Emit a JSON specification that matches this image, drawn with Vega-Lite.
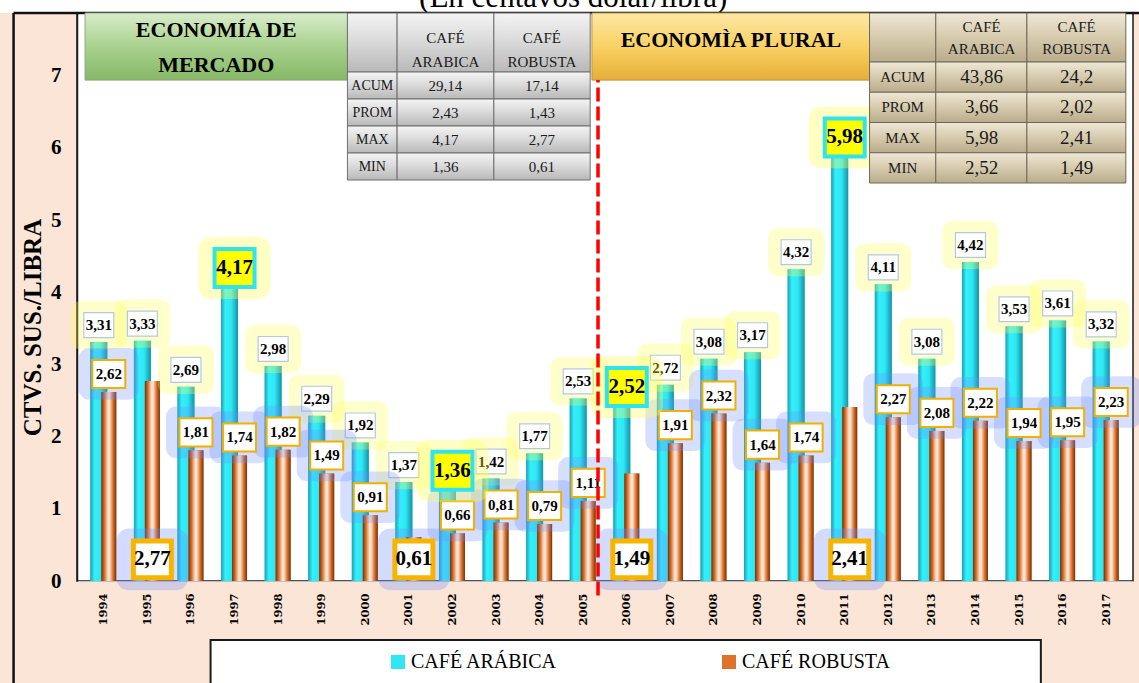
{
  "$schema": "https://vega.github.io/schema/vega-lite/v6.json",
  "autosize": {"type": "none"},
  "width": 1056,
  "height": 568,
  "padding": {"left": 77, "top": 13, "right": 6, "bottom": 102},
  "background": "#FBE5D6",
  "config": {
    "locale": {"number": {"decimal": ",", "thousands": ".", "grouping": [3], "currency": ["", " €"]}},
    "view": {"fill": "white", "stroke": "#1a1a1a", "strokeWidth": 1.5},
    "font": "Liberation Serif, Times New Roman, serif",
    "legend": {"labelFont": "Liberation Serif, Times New Roman, serif"}
  },
  "datasets": {
    "precios": [
      {"anio": 1994, "periodo": "Economía de mercado", "cafe": "CAFÉ ARÁBICA", "valor": 3.31},
      {"anio": 1995, "periodo": "Economía de mercado", "cafe": "CAFÉ ARÁBICA", "valor": 3.33},
      {"anio": 1996, "periodo": "Economía de mercado", "cafe": "CAFÉ ARÁBICA", "valor": 2.69},
      {"anio": 1997, "periodo": "Economía de mercado", "cafe": "CAFÉ ARÁBICA", "valor": 4.17},
      {"anio": 1998, "periodo": "Economía de mercado", "cafe": "CAFÉ ARÁBICA", "valor": 2.98},
      {"anio": 1999, "periodo": "Economía de mercado", "cafe": "CAFÉ ARÁBICA", "valor": 2.29},
      {"anio": 2000, "periodo": "Economía de mercado", "cafe": "CAFÉ ARÁBICA", "valor": 1.92},
      {"anio": 2001, "periodo": "Economía de mercado", "cafe": "CAFÉ ARÁBICA", "valor": 1.37},
      {"anio": 2002, "periodo": "Economía de mercado", "cafe": "CAFÉ ARÁBICA", "valor": 1.36},
      {"anio": 2003, "periodo": "Economía de mercado", "cafe": "CAFÉ ARÁBICA", "valor": 1.42},
      {"anio": 2004, "periodo": "Economía de mercado", "cafe": "CAFÉ ARÁBICA", "valor": 1.77},
      {"anio": 2005, "periodo": "Economía de mercado", "cafe": "CAFÉ ARÁBICA", "valor": 2.53},
      {"anio": 2006, "periodo": "Economía plural", "cafe": "CAFÉ ARÁBICA", "valor": 2.52},
      {"anio": 2007, "periodo": "Economía plural", "cafe": "CAFÉ ARÁBICA", "valor": 2.72},
      {"anio": 2008, "periodo": "Economía plural", "cafe": "CAFÉ ARÁBICA", "valor": 3.08},
      {"anio": 2009, "periodo": "Economía plural", "cafe": "CAFÉ ARÁBICA", "valor": 3.17},
      {"anio": 2010, "periodo": "Economía plural", "cafe": "CAFÉ ARÁBICA", "valor": 4.32},
      {"anio": 2011, "periodo": "Economía plural", "cafe": "CAFÉ ARÁBICA", "valor": 5.98},
      {"anio": 2012, "periodo": "Economía plural", "cafe": "CAFÉ ARÁBICA", "valor": 4.11},
      {"anio": 2013, "periodo": "Economía plural", "cafe": "CAFÉ ARÁBICA", "valor": 3.08},
      {"anio": 2014, "periodo": "Economía plural", "cafe": "CAFÉ ARÁBICA", "valor": 4.42},
      {"anio": 2015, "periodo": "Economía plural", "cafe": "CAFÉ ARÁBICA", "valor": 3.53},
      {"anio": 2016, "periodo": "Economía plural", "cafe": "CAFÉ ARÁBICA", "valor": 3.61},
      {"anio": 2017, "periodo": "Economía plural", "cafe": "CAFÉ ARÁBICA", "valor": 3.32},
      {"anio": 1994, "periodo": "Economía de mercado", "cafe": "CAFÉ ROBUSTA", "valor": 2.62},
      {"anio": 1995, "periodo": "Economía de mercado", "cafe": "CAFÉ ROBUSTA", "valor": 2.77},
      {"anio": 1996, "periodo": "Economía de mercado", "cafe": "CAFÉ ROBUSTA", "valor": 1.81},
      {"anio": 1997, "periodo": "Economía de mercado", "cafe": "CAFÉ ROBUSTA", "valor": 1.74},
      {"anio": 1998, "periodo": "Economía de mercado", "cafe": "CAFÉ ROBUSTA", "valor": 1.82},
      {"anio": 1999, "periodo": "Economía de mercado", "cafe": "CAFÉ ROBUSTA", "valor": 1.49},
      {"anio": 2000, "periodo": "Economía de mercado", "cafe": "CAFÉ ROBUSTA", "valor": 0.91},
      {"anio": 2001, "periodo": "Economía de mercado", "cafe": "CAFÉ ROBUSTA", "valor": 0.61},
      {"anio": 2002, "periodo": "Economía de mercado", "cafe": "CAFÉ ROBUSTA", "valor": 0.66},
      {"anio": 2003, "periodo": "Economía de mercado", "cafe": "CAFÉ ROBUSTA", "valor": 0.81},
      {"anio": 2004, "periodo": "Economía de mercado", "cafe": "CAFÉ ROBUSTA", "valor": 0.79},
      {"anio": 2005, "periodo": "Economía de mercado", "cafe": "CAFÉ ROBUSTA", "valor": 1.11},
      {"anio": 2006, "periodo": "Economía plural", "cafe": "CAFÉ ROBUSTA", "valor": 1.49},
      {"anio": 2007, "periodo": "Economía plural", "cafe": "CAFÉ ROBUSTA", "valor": 1.91},
      {"anio": 2008, "periodo": "Economía plural", "cafe": "CAFÉ ROBUSTA", "valor": 2.32},
      {"anio": 2009, "periodo": "Economía plural", "cafe": "CAFÉ ROBUSTA", "valor": 1.64},
      {"anio": 2010, "periodo": "Economía plural", "cafe": "CAFÉ ROBUSTA", "valor": 1.74},
      {"anio": 2011, "periodo": "Economía plural", "cafe": "CAFÉ ROBUSTA", "valor": 2.41},
      {"anio": 2012, "periodo": "Economía plural", "cafe": "CAFÉ ROBUSTA", "valor": 2.27},
      {"anio": 2013, "periodo": "Economía plural", "cafe": "CAFÉ ROBUSTA", "valor": 2.08},
      {"anio": 2014, "periodo": "Economía plural", "cafe": "CAFÉ ROBUSTA", "valor": 2.22},
      {"anio": 2015, "periodo": "Economía plural", "cafe": "CAFÉ ROBUSTA", "valor": 1.94},
      {"anio": 2016, "periodo": "Economía plural", "cafe": "CAFÉ ROBUSTA", "valor": 1.95},
      {"anio": 2017, "periodo": "Economía plural", "cafe": "CAFÉ ROBUSTA", "valor": 2.23}
    ],
    "resumen": [
      {"periodo": "Economía de mercado", "estadistico": "ACUM", "arabica": 29.14, "robusta": 17.14},
      {"periodo": "Economía de mercado", "estadistico": "PROM", "arabica": 2.43, "robusta": 1.43},
      {"periodo": "Economía de mercado", "estadistico": "MAX", "arabica": 4.17, "robusta": 2.77},
      {"periodo": "Economía de mercado", "estadistico": "MIN", "arabica": 1.36, "robusta": 0.61},
      {"periodo": "Economía plural", "estadistico": "ACUM", "arabica": 43.86, "robusta": 24.2},
      {"periodo": "Economía plural", "estadistico": "PROM", "arabica": 3.66, "robusta": 2.02},
      {"periodo": "Economía plural", "estadistico": "MAX", "arabica": 5.98, "robusta": 2.41},
      {"periodo": "Economía plural", "estadistico": "MIN", "arabica": 2.52, "robusta": 1.49}
    ],
    "periodos": [
      {"periodo": "Economía de mercado", "titulo": ["ECONOMÍA DE", "MERCADO"]},
      {"periodo": "Economía plural", "titulo": "ECONOMÌA PLURAL"}
    ]
  },
  "layer": [
    {
      "data": {"name": "precios"},
      "layer": [
        {
          "transform": [{"aggregate": [{"op": "count", "as": "n"}]}],
          "layer": [
            {"mark": {"type": "rect", "fill": "white", "strokeWidth": 0},
             "encoding": {"x": {"datum": 1991.6}, "x2": {"datum": 2017.8}, "y": {"datum": 8.05}, "y2": {"datum": 7.87}}},
            {"mark": {"type": "text", "text": "(En centavos dólar/libra)", "font": "Liberation Serif, Times New Roman, serif", "fontSize": 31, "baseline": "alphabetic", "align": "center", "fill": "black"},
             "encoding": {"x": {"datum": 2004.77}, "y": {"datum": 7.953}}},
            {"mark": {"type": "rule", "stroke": "#111111", "strokeWidth": 2.5},
             "encoding": {"x": {"datum": 1991.93}, "x2": {"datum": 2017.8}, "y": {"datum": 7.87}}},
            {"mark": {"type": "rule", "stroke": "#111111", "strokeWidth": 2.5},
             "encoding": {"x": {"datum": 1991.93}, "y": {"datum": 7.87}, "y2": {"datum": -1.6}}}
          ]
        },
        {
          "data": {"name": "periodos"},
          "transform": [{"filter": "datum.periodo === 'Economía de mercado'"}],
          "layer": [
            {"mark": {"type": "rect", "fill": {"gradient": "linear", "x1": 0, "y1": 0, "x2": 0, "y2": 1, "stops": [{"offset": 0, "color": "#d8ecca"}, {"offset": 0.5, "color": "#a9d18e"}, {"offset": 1, "color": "#86b866"}]}, "stroke": "#8fa884", "strokeWidth": 1},
             "encoding": {"x": {"datum": 1993.57}, "x2": {"datum": 1999.59}, "y": {"datum": 7.87}, "y2": {"datum": 6.94}}},
            {"mark": {"type": "text", "font": "Liberation Serif, Times New Roman, serif", "fontSize": 22, "fontWeight": "bold", "lineHeight": 35, "baseline": "middle", "align": "center", "fill": "black"},
             "encoding": {"x": {"datum": 1996.58}, "y": {"datum": 7.63}, "text": {"field": "titulo"}}}
          ]
        },
        {
          "data": {"name": "periodos"},
          "transform": [{"filter": "datum.periodo === 'Economía plural'"}],
          "layer": [
            {"mark": {"type": "rect", "fill": {"gradient": "linear", "x1": 0, "y1": 0, "x2": 0, "y2": 1, "stops": [{"offset": 0, "color": "#fde8a6"}, {"offset": 0.5, "color": "#fad164"}, {"offset": 1, "color": "#e6ae37"}]}, "stroke": "#b8953f", "strokeWidth": 1},
             "encoding": {"x": {"datum": 2005.2}, "x2": {"datum": 2011.57}, "y": {"datum": 7.87}, "y2": {"datum": 6.94}}},
            {"mark": {"type": "text", "font": "Liberation Serif, Times New Roman, serif", "fontSize": 22, "fontWeight": "bold", "baseline": "middle", "align": "center", "fill": "black"},
             "encoding": {"x": {"datum": 2008.39}, "y": {"datum": 7.5}, "text": {"field": "titulo"}}}
          ]
        },
        {
          "transform": [{"aggregate": [{"op": "count", "as": "n"}]}],
          "layer": [
            {"mark": {"type": "rect", "fill": {"gradient": "linear", "x1": 0, "y1": 0, "x2": 0, "y2": 1, "stops": [{"offset": 0, "color": "#f4f4f4"}, {"offset": 0.45, "color": "#dcdcdc"}, {"offset": 1, "color": "#b8b8b8"}]}, "stroke": "#6f6f6f", "strokeWidth": 1},
             "encoding": {"x": {"datum": 1999.59}, "x2": {"datum": 2000.73}, "y": {"datum": 7.87}, "y2": {"datum": 7.052}}},
            {"mark": {"type": "rect", "fill": {"gradient": "linear", "x1": 0, "y1": 0, "x2": 0, "y2": 1, "stops": [{"offset": 0, "color": "#f4f4f4"}, {"offset": 0.45, "color": "#dcdcdc"}, {"offset": 1, "color": "#b8b8b8"}]}, "stroke": "#6f6f6f", "strokeWidth": 1},
             "encoding": {"x": {"datum": 2000.73}, "x2": {"datum": 2002.95}, "y": {"datum": 7.87}, "y2": {"datum": 7.052}}},
            {"mark": {"type": "rect", "fill": {"gradient": "linear", "x1": 0, "y1": 0, "x2": 0, "y2": 1, "stops": [{"offset": 0, "color": "#f4f4f4"}, {"offset": 0.45, "color": "#dcdcdc"}, {"offset": 1, "color": "#b8b8b8"}]}, "stroke": "#6f6f6f", "strokeWidth": 1},
             "encoding": {"x": {"datum": 2002.95}, "x2": {"datum": 2005.16}, "y": {"datum": 7.87}, "y2": {"datum": 7.052}}},
            {"mark": {"type": "text", "text": ["CAFÉ", "ARABICA"], "font": "Liberation Serif, Times New Roman, serif", "fontSize": 15, "lineHeight": 24, "baseline": "middle", "align": "center", "fill": "#1a1a1a"},
             "encoding": {"x": {"datum": 2001.84}, "y": {"datum": 7.53}}},
            {"mark": {"type": "text", "text": ["CAFÉ", "ROBUSTA"], "font": "Liberation Serif, Times New Roman, serif", "fontSize": 15, "lineHeight": 24, "baseline": "middle", "align": "center", "fill": "#1a1a1a"},
             "encoding": {"x": {"datum": 2004.05}, "y": {"datum": 7.53}}},
            {"mark": {"type": "rect", "fill": {"gradient": "linear", "x1": 0, "y1": 0, "x2": 0, "y2": 1, "stops": [{"offset": 0, "color": "#efe8d6"}, {"offset": 0.45, "color": "#d9cdb1"}, {"offset": 1, "color": "#b9ac8c"}]}, "stroke": "#6f6855", "strokeWidth": 1},
             "encoding": {"x": {"datum": 2011.57}, "x2": {"datum": 2013.09}, "y": {"datum": 7.87}, "y2": {"datum": 7.19}}},
            {"mark": {"type": "rect", "fill": {"gradient": "linear", "x1": 0, "y1": 0, "x2": 0, "y2": 1, "stops": [{"offset": 0, "color": "#efe8d6"}, {"offset": 0.45, "color": "#d9cdb1"}, {"offset": 1, "color": "#b9ac8c"}]}, "stroke": "#6f6855", "strokeWidth": 1},
             "encoding": {"x": {"datum": 2013.09}, "x2": {"datum": 2015.18}, "y": {"datum": 7.87}, "y2": {"datum": 7.19}}},
            {"mark": {"type": "rect", "fill": {"gradient": "linear", "x1": 0, "y1": 0, "x2": 0, "y2": 1, "stops": [{"offset": 0, "color": "#efe8d6"}, {"offset": 0.45, "color": "#d9cdb1"}, {"offset": 1, "color": "#b9ac8c"}]}, "stroke": "#6f6855", "strokeWidth": 1},
             "encoding": {"x": {"datum": 2015.18}, "x2": {"datum": 2017.45}, "y": {"datum": 7.87}, "y2": {"datum": 7.19}}},
            {"mark": {"type": "text", "text": ["CAFÉ", "ARABICA"], "font": "Liberation Serif, Times New Roman, serif", "fontSize": 15, "lineHeight": 22, "baseline": "middle", "align": "center", "fill": "#1a1a1a"},
             "encoding": {"x": {"datum": 2014.14}, "y": {"datum": 7.68}}},
            {"mark": {"type": "text", "text": ["CAFÉ", "ROBUSTA"], "font": "Liberation Serif, Times New Roman, serif", "fontSize": 15, "lineHeight": 22, "baseline": "middle", "align": "center", "fill": "#1a1a1a"},
             "encoding": {"x": {"datum": 2016.32}, "y": {"datum": 7.68}}},
            {"mark": {"type": "rect", "fill": "white", "stroke": "#1a1a1a", "strokeWidth": 2},
             "encoding": {"x": {"datum": 1996.45}, "x2": {"datum": 2015.5}, "y": {"datum": -0.817}, "y2": {"datum": -1.8}}}
          ]
        },
        {
          "transform": [{"filter": "datum.cafe === 'CAFÉ ARÁBICA'"}],
          "mark": {"type": "bar", "width": 17, "xOffset": -5},
          "encoding": {
            "x": {"field": "anio", "type": "quantitative", "scale": {"domain": [1993.5, 2017.5], "nice": false, "zero": false},
                  "axis": {"values": [1994, 1995, 1996, 1997, 1998, 1999, 2000, 2001, 2002, 2003, 2004, 2005, 2006, 2007, 2008, 2009, 2010, 2011, 2012, 2013, 2014, 2015, 2016, 2017], "format": "d", "title": null, "labelAngle": 270, "labelFont": "DejaVu Serif", "labelFontSize": 11.5, "labelFontWeight": "bold", "labelColor": "black", "labelPadding": 12, "ticks": false, "grid": false, "domainColor": "#bfbfbf", "labelOverlap": false}},
            "y": {"field": "valor", "type": "quantitative", "scale": {"domain": [0, 7.87], "nice": false},
                  "axis": {"values": [0, 1, 2, 3, 4, 5, 6, 7], "format": "d", "title": "CTVS. SUS./LIBRA", "titleFont": "Liberation Serif, Times New Roman, serif", "titleFontSize": 25, "titleFontWeight": "bold", "titleColor": "black", "titleX": -37, "titleY": 314, "titleAngle": 270, "titleBaseline": "alphabetic", "titleAlign": "center", "labelFont": "Liberation Serif, Times New Roman, serif", "labelFontSize": 21, "labelFontWeight": "bold", "labelColor": "black", "labelPadding": 16, "ticks": false, "domainColor": "#1a1a1a", "domainWidth": 1.5, "gridColor": "#d9d9d9", "gridWidth": 1.5}},
            "color": {"field": "cafe", "type": "nominal",
                      "scale": {"domain": ["CAFÉ ARÁBICA", "CAFÉ ROBUSTA"], "range": ["#2fe6f1", "#df722a"]},
                      "legend": {"title": null, "orient": "none", "legendX": 311, "legendY": 639, "direction": "horizontal", "symbolType": "square", "symbolSize": 196, "symbolStrokeWidth": 0, "symbolOpacity": 1, "labelFont": "Liberation Serif, Times New Roman, serif", "labelFontSize": 20, "labelColor": "black", "labelOffset": 3, "columnPadding": 161, "padding": 0, "labelLimit": 300}}
          }
        },
        {
          "transform": [{"filter": "datum.cafe === 'CAFÉ ARÁBICA'"}],
          "mark": {"type": "bar", "width": 17, "xOffset": -5, "fill": {"gradient": "linear", "x1": 0, "y1": 0, "x2": 1, "y2": 0, "stops": [{"offset": 0, "color": "#1e9fb4"}, {"offset": 0.25, "color": "#33f0fa"}, {"offset": 0.6, "color": "#2ee8f4"}, {"offset": 1, "color": "#1592a8"}]}},
          "encoding": {"x": {"field": "anio", "type": "quantitative"}, "y": {"field": "valor", "type": "quantitative"}}
        },
        {
          "transform": [{"filter": "datum.cafe === 'CAFÉ ROBUSTA'"}],
          "mark": {"type": "bar", "width": 15, "xOffset": 5},
          "encoding": {
            "x": {"field": "anio", "type": "quantitative"},
            "y": {"field": "valor", "type": "quantitative"},
            "color": {"field": "cafe", "type": "nominal"}
          }
        },
        {
          "transform": [{"filter": "datum.cafe === 'CAFÉ ROBUSTA'"}],
          "mark": {"type": "bar", "width": 15, "xOffset": 5, "fill": {"gradient": "linear", "x1": 0, "y1": 0, "x2": 1, "y2": 0, "stops": [{"offset": 0, "color": "#6e3410"}, {"offset": 0.2, "color": "#d8681f"}, {"offset": 0.45, "color": "#fbe3cf"}, {"offset": 0.55, "color": "#fbe3cf"}, {"offset": 0.8, "color": "#d8681f"}, {"offset": 1, "color": "#6e3410"}]}},
          "encoding": {"x": {"field": "anio", "type": "quantitative"}, "y": {"field": "valor", "type": "quantitative"}}
        },
        {
          "transform": [
            {"joinaggregate": [{"op": "max", "field": "valor", "as": "vmax"}, {"op": "min", "field": "valor", "as": "vmin"}], "groupby": ["periodo", "cafe"]},
            {"filter": "datum.cafe === 'CAFÉ ARÁBICA' && datum.valor !== datum.vmax && datum.valor !== datum.vmin"}
          ],
          "encoding": {"x": {"field": "anio", "type": "quantitative"}, "y": {"field": "valor", "type": "quantitative"}},
          "layer": [
            {"mark": {"type": "point", "shape": "M-0.65,-0.86H0.65A0.35,0.35 0 0 1 1,-0.51V0.51A0.35,0.35 0 0 1 0.65,0.86H-0.65A0.35,0.35 0 0 1 -1,0.51V-0.51A0.35,0.35 0 0 1 -0.65,-0.86Z", "size": 3136, "filled": true, "fill": "#ffff55", "opacity": 0.3, "strokeWidth": 0, "xOffset": -5, "yOffset": -17}},
            {"mark": {"type": "point", "shape": "M-1,-0.83H1V0.83H-1Z", "size": 900, "filled": true, "fill": "white", "stroke": "#b4c7e7", "strokeWidth": 1.2, "opacity": 1, "xOffset": -5, "yOffset": -17}},
            {"mark": {"type": "text", "font": "Liberation Serif, Times New Roman, serif", "fontSize": 15, "fontWeight": "bold", "fill": "black", "xOffset": -5, "yOffset": -17, "baseline": "middle", "align": "center"},
             "encoding": {"text": {"field": "valor", "type": "quantitative", "format": ".2f"}}}
          ]
        },
        {
          "transform": [
            {"joinaggregate": [{"op": "max", "field": "valor", "as": "vmax"}, {"op": "min", "field": "valor", "as": "vmin"}], "groupby": ["periodo", "cafe"]},
            {"filter": "datum.cafe === 'CAFÉ ROBUSTA' && datum.valor !== datum.vmax && datum.valor !== datum.vmin"}
          ],
          "encoding": {"x": {"field": "anio", "type": "quantitative"}, "y": {"field": "valor", "type": "quantitative"}},
          "layer": [
            {"mark": {"type": "point", "shape": "M-0.65,-0.86H0.65A0.35,0.35 0 0 1 1,-0.51V0.51A0.35,0.35 0 0 1 0.65,0.86H-0.65A0.35,0.35 0 0 1 -1,0.51V-0.51A0.35,0.35 0 0 1 -0.65,-0.86Z", "size": 3600, "filled": true, "fill": "#6d8cff", "opacity": 0.28, "strokeWidth": 0, "xOffset": 5, "yOffset": -18}},
            {"mark": {"type": "point", "shape": "M-1,-0.85H1V0.85H-1Z", "size": 1089, "filled": true, "fill": "white", "stroke": "#f2b000", "strokeWidth": 2, "opacity": 1, "xOffset": 5, "yOffset": -18}},
            {"mark": {"type": "text", "font": "Liberation Serif, Times New Roman, serif", "fontSize": 15, "fontWeight": "bold", "fill": "black", "xOffset": 5, "yOffset": -18, "baseline": "middle", "align": "center"},
             "encoding": {"text": {"field": "valor", "type": "quantitative", "format": ".2f"}}}
          ]
        },
        {
          "transform": [
            {"joinaggregate": [{"op": "max", "field": "valor", "as": "vmax"}, {"op": "min", "field": "valor", "as": "vmin"}], "groupby": ["periodo", "cafe"]},
            {"filter": "datum.cafe === 'CAFÉ ARÁBICA' && (datum.valor === datum.vmax || datum.valor === datum.vmin)"}
          ],
          "encoding": {"x": {"field": "anio", "type": "quantitative"}, "y": {"field": "valor", "type": "quantitative"}},
          "layer": [
            {"mark": {"type": "point", "shape": "M-0.65,-0.86H0.65A0.35,0.35 0 0 1 1,-0.51V0.51A0.35,0.35 0 0 1 0.65,0.86H-0.65A0.35,0.35 0 0 1 -1,0.51V-0.51A0.35,0.35 0 0 1 -0.65,-0.86Z", "size": 5184, "filled": true, "fill": "#ffff55", "opacity": 0.35, "strokeWidth": 0, "xOffset": 0, "yOffset": -12}},
            {"mark": {"type": "point", "shape": "M-1,-0.95H1V0.95H-1Z", "size": 1600, "filled": true, "fill": "#ffff00", "stroke": "#2fe3ef", "strokeWidth": 4, "opacity": 1, "xOffset": 0, "yOffset": -12}},
            {"mark": {"type": "text", "font": "Liberation Serif, Times New Roman, serif", "fontSize": 21, "fontWeight": "bold", "fill": "black", "xOffset": 0, "yOffset": -12, "baseline": "middle", "align": "center"},
             "encoding": {"text": {"field": "valor", "type": "quantitative", "format": ".2f"}}}
          ]
        },
        {
          "transform": [
            {"joinaggregate": [{"op": "max", "field": "valor", "as": "vmax"}, {"op": "min", "field": "valor", "as": "vmin"}], "groupby": ["periodo", "cafe"]},
            {"filter": "datum.cafe === 'CAFÉ ROBUSTA' && (datum.valor === datum.vmax || datum.valor === datum.vmin)"}
          ],
          "encoding": {"x": {"field": "anio", "type": "quantitative"}, "y": {"datum": 0.3}},
          "layer": [
            {"mark": {"type": "point", "shape": "M-0.65,-0.86H0.65A0.35,0.35 0 0 1 1,-0.51V0.51A0.35,0.35 0 0 1 0.65,0.86H-0.65A0.35,0.35 0 0 1 -1,0.51V-0.51A0.35,0.35 0 0 1 -0.65,-0.86Z", "size": 5184, "filled": true, "fill": "#6d8cff", "opacity": 0.3, "strokeWidth": 0, "xOffset": 5}},
            {"mark": {"type": "point", "shape": "M-1,-0.97H1V0.97H-1Z", "size": 1444, "filled": true, "fill": "white", "stroke": "#f7b500", "strokeWidth": 5, "opacity": 1, "xOffset": 5}},
            {"mark": {"type": "text", "font": "Liberation Serif, Times New Roman, serif", "fontSize": 21, "fontWeight": "bold", "fill": "black", "xOffset": 5, "baseline": "middle", "align": "center"},
             "encoding": {"text": {"field": "valor", "type": "quantitative", "format": ".2f"}}}
          ]
        },
        {
          "transform": [{"aggregate": [{"op": "count", "as": "n"}]}],
          "mark": {"type": "rule", "stroke": "#ff0000", "strokeWidth": 3.5, "strokeDash": [14, 5]},
          "encoding": {"x": {"datum": 2005.34}, "y": {"datum": -0.2}, "y2": {"datum": 6.94}}
        }
      ]
    },
    {
      "data": {"name": "resumen"},
      "transform": [{"filter": "datum.periodo === 'Economía de mercado'"}],
      "encoding": {"y": {"field": "estadistico", "type": "nominal", "scale": {"domain": ["ACUM", "PROM", "MAX", "MIN"], "range": [59, 167], "paddingInner": 0, "paddingOuter": 0}, "axis": null}},
      "layer": [
        {"mark": {"type": "rect", "fill": {"gradient": "linear", "x1": 0, "y1": 0, "x2": 0, "y2": 1, "stops": [{"offset": 0, "color": "#f4f4f4"}, {"offset": 0.45, "color": "#dcdcdc"}, {"offset": 1, "color": "#b8b8b8"}]}, "stroke": "#6f6f6f", "strokeWidth": 1},
         "encoding": {"x": {"datum": 1999.59}, "x2": {"datum": 2000.73}}},
        {"mark": {"type": "rect", "fill": {"gradient": "linear", "x1": 0, "y1": 0, "x2": 0, "y2": 1, "stops": [{"offset": 0, "color": "#f4f4f4"}, {"offset": 0.45, "color": "#dcdcdc"}, {"offset": 1, "color": "#b8b8b8"}]}, "stroke": "#6f6f6f", "strokeWidth": 1},
         "encoding": {"x": {"datum": 2000.73}, "x2": {"datum": 2002.95}}},
        {"mark": {"type": "rect", "fill": {"gradient": "linear", "x1": 0, "y1": 0, "x2": 0, "y2": 1, "stops": [{"offset": 0, "color": "#f4f4f4"}, {"offset": 0.45, "color": "#dcdcdc"}, {"offset": 1, "color": "#b8b8b8"}]}, "stroke": "#6f6f6f", "strokeWidth": 1},
         "encoding": {"x": {"datum": 2002.95}, "x2": {"datum": 2005.16}}},
        {"mark": {"type": "text", "font": "Liberation Serif, Times New Roman, serif", "fontSize": 14, "baseline": "middle", "align": "center", "fill": "#1a1a1a"},
         "encoding": {"x": {"datum": 2000.16}, "text": {"field": "estadistico"}}},
        {"mark": {"type": "text", "font": "Liberation Serif, Times New Roman, serif", "fontSize": 15, "baseline": "middle", "align": "center", "fill": "#1a1a1a"},
         "encoding": {"x": {"datum": 2001.84}, "text": {"field": "arabica", "type": "quantitative", "format": ".4~g"}}},
        {"mark": {"type": "text", "font": "Liberation Serif, Times New Roman, serif", "fontSize": 15, "baseline": "middle", "align": "center", "fill": "#1a1a1a"},
         "encoding": {"x": {"datum": 2004.05}, "text": {"field": "robusta", "type": "quantitative", "format": ".4~g"}}}
      ]
    },
    {
      "data": {"name": "resumen"},
      "transform": [{"filter": "datum.periodo === 'Economía plural'"}],
      "encoding": {"y": {"field": "estadistico", "type": "nominal", "scale": {"domain": ["ACUM", "PROM", "MAX", "MIN"], "range": [49, 170], "paddingInner": 0, "paddingOuter": 0}, "axis": null}},
      "layer": [
        {"mark": {"type": "rect", "fill": {"gradient": "linear", "x1": 0, "y1": 0, "x2": 0, "y2": 1, "stops": [{"offset": 0, "color": "#efe8d6"}, {"offset": 0.45, "color": "#d9cdb1"}, {"offset": 1, "color": "#b9ac8c"}]}, "stroke": "#6f6855", "strokeWidth": 1},
         "encoding": {"x": {"datum": 2011.57}, "x2": {"datum": 2013.09}}},
        {"mark": {"type": "rect", "fill": {"gradient": "linear", "x1": 0, "y1": 0, "x2": 0, "y2": 1, "stops": [{"offset": 0, "color": "#efe8d6"}, {"offset": 0.45, "color": "#d9cdb1"}, {"offset": 1, "color": "#b9ac8c"}]}, "stroke": "#6f6855", "strokeWidth": 1},
         "encoding": {"x": {"datum": 2013.09}, "x2": {"datum": 2015.18}}},
        {"mark": {"type": "rect", "fill": {"gradient": "linear", "x1": 0, "y1": 0, "x2": 0, "y2": 1, "stops": [{"offset": 0, "color": "#efe8d6"}, {"offset": 0.45, "color": "#d9cdb1"}, {"offset": 1, "color": "#b9ac8c"}]}, "stroke": "#6f6855", "strokeWidth": 1},
         "encoding": {"x": {"datum": 2015.18}, "x2": {"datum": 2017.45}}},
        {"mark": {"type": "text", "font": "Liberation Serif, Times New Roman, serif", "fontSize": 15, "baseline": "middle", "align": "center", "fill": "#1a1a1a"},
         "encoding": {"x": {"datum": 2012.33}, "text": {"field": "estadistico"}}},
        {"mark": {"type": "text", "font": "Liberation Serif, Times New Roman, serif", "fontSize": 19, "baseline": "middle", "align": "center", "fill": "#1a1a1a"},
         "encoding": {"x": {"datum": 2014.14}, "text": {"field": "arabica", "type": "quantitative", "format": ".4~g"}}},
        {"mark": {"type": "text", "font": "Liberation Serif, Times New Roman, serif", "fontSize": 19, "baseline": "middle", "align": "center", "fill": "#1a1a1a"},
         "encoding": {"x": {"datum": 2016.32}, "text": {"field": "robusta", "type": "quantitative", "format": ".4~g"}}}
      ]
    }
  ],
  "resolve": {"scale": {"y": "independent"}}
}
